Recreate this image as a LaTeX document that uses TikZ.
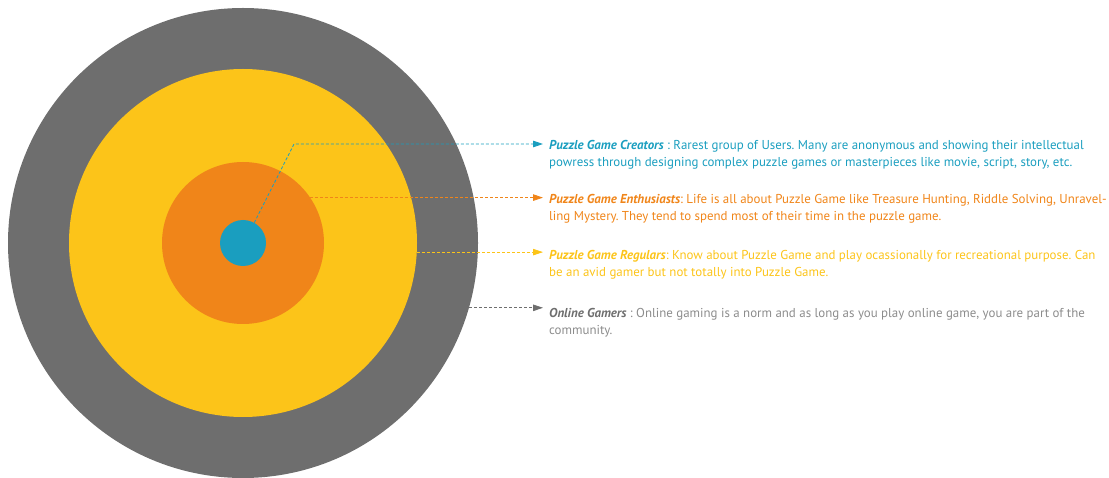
\documentclass[tikz,border=0pt]{standalone}
\usepackage{fontspec}
\setmainfont{PT Sans}
\usepackage{xcolor}
\usetikzlibrary{arrows.meta}
\definecolor{gamersgray}{RGB}{110,110,110}
\definecolor{gamerstext}{RGB}{140,140,140}
\definecolor{regularsyellow}{RGB}{252,196,25}
\definecolor{enthusiastsorange}{RGB}{240,133,25}
\definecolor{creatorsblue}{RGB}{26,158,191}
\frenchspacing

\begin{document}
\begin{tikzpicture}[x=1pt,y=-1pt,
	ring/.style={circle,inner sep=0pt,minimum size=#1},
	link/.style={densely dashed,line width=0.8pt,shorten >=6pt,-{Triangle[length=10pt,width=6.5pt]}},
	info/.style={anchor=west,align=left,inner sep=0pt,font=\fontsize{12.9}{17}\selectfont}]

	\useasboundingbox (0,0) rectangle (1109,478);

	\node[ring=470pt,fill=gamersgray] (gamers) at (243,243) {};
	\node[ring=348pt,fill=regularsyellow] (regulars) at (243,243) {};
	\node[ring=162pt,fill=enthusiastsorange] (enthusiasts) at (243,243) {};
	\node[ring=46pt,fill=creatorsblue] (creators) at (243,243) {};

	\node[info,text=creatorsblue] (creatorstext) at (549,155)
		{\textbf{\textit{Puzzle Game Creators}} : Rarest group of Users. Many are anonymous and showing their intellectual\\
		powress through designing complex puzzle games or masterpieces like movie, script, story, etc.};
	\node[info,text=enthusiastsorange] (enthusiaststext) at (549,209)
		{\textbf{\textit{Puzzle Game Enthusiasts}}: Life is all about Puzzle Game like Treasure Hunting, Riddle Solving, Unravel-\\
		ling Mystery. They tend to spend most of their time in the puzzle game.};
	\node[info,text=regularsyellow] (regularstext) at (549,265)
		{\textbf{\textit{Puzzle Game Regulars}}: Know about Puzzle Game and play ocassionally for recreational purpose. Can\\
		be an avid gamer but not totally into Puzzle Game.};
	\node[info,text=gamerstext] (gamerstext) at (549,322.5)
		{\textbf{\textit{\color{gamersgray}Online Gamers}} : Online gaming is a norm and as long as you play online game, you are part of the\\
		community.};

	\coordinate (creatorsbend) at (294,144);

	\draw[link,creatorsblue] (creators.61) -- (creatorsbend) -- (creatorsbend -| creatorstext.west);
	\draw[link,enthusiastsorange] (enthusiasts.34.5) -- (enthusiasts.34.5 -| enthusiaststext.west);
	\draw[link,regularsyellow] (regulars.-3.3) -- (regulars.-3.3 -| regularstext.west);
	\draw[link,gamersgray] (gamers.-16.3) -- (gamers.-16.3 -| gamerstext.west);

\end{tikzpicture}
\end{document}
